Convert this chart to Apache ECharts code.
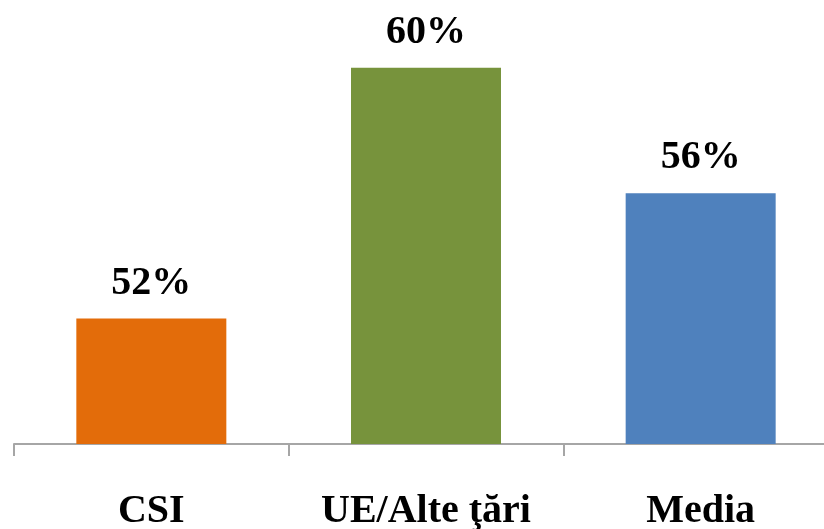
<!DOCTYPE html>
<html>
<head>
<meta charset="utf-8">
<script src="https://cdn.jsdelivr.net/npm/echarts@6/dist/echarts.min.js"></script>
<style>html,body{margin:0;padding:0;background:#fff}#c{width:824px;height:529px}</style>
</head>
<body>
<div id="c"></div>
<script>
const categories = ['CSI', 'UE/Alte ţări', 'Media'];
const values = [52, 60, 56];
const colors = ['#E36C0A', '#77933C', '#4F81BD'];

const chart = echarts.init(document.getElementById('c'), null, {renderer: 'canvas'});
const font = '"Liberation Serif", "Times New Roman", serif';
chart.setOption({
  animation: false,
  grid: {left: 14, top: 5, width: 824, height: 439, containLabel: false, outerBoundsMode: 'none'},
  xAxis: {
    type: 'category',
    data: categories,
    axisLine: {show: true, lineStyle: {color: '#a6a6a6', width: 2}},
    axisTick: {show: true, length: 12, interval: 0, lineStyle: {color: '#a6a6a6', width: 2}},
    axisLabel: {interval: 0, hideOverlap: false, fontFamily: font, fontWeight: 'bold', fontSize: 40, color: '#000', margin: 48}
  },
  yAxis: {
    type: 'value', min: 48, max: 62,
    show: false, splitLine: {show: false}
  },
  series: [{
    type: 'bar',
    barWidth: 150,
    data: values.map((v, i) => ({value: v, itemStyle: {color: colors[i]}})),
    label: {
      show: true, position: 'top', distance: 15,
      formatter: '{c}%',
      fontFamily: font, fontWeight: 'bold', fontSize: 40, color: '#000'
    }
  }]
});
</script>
</body>
</html>
